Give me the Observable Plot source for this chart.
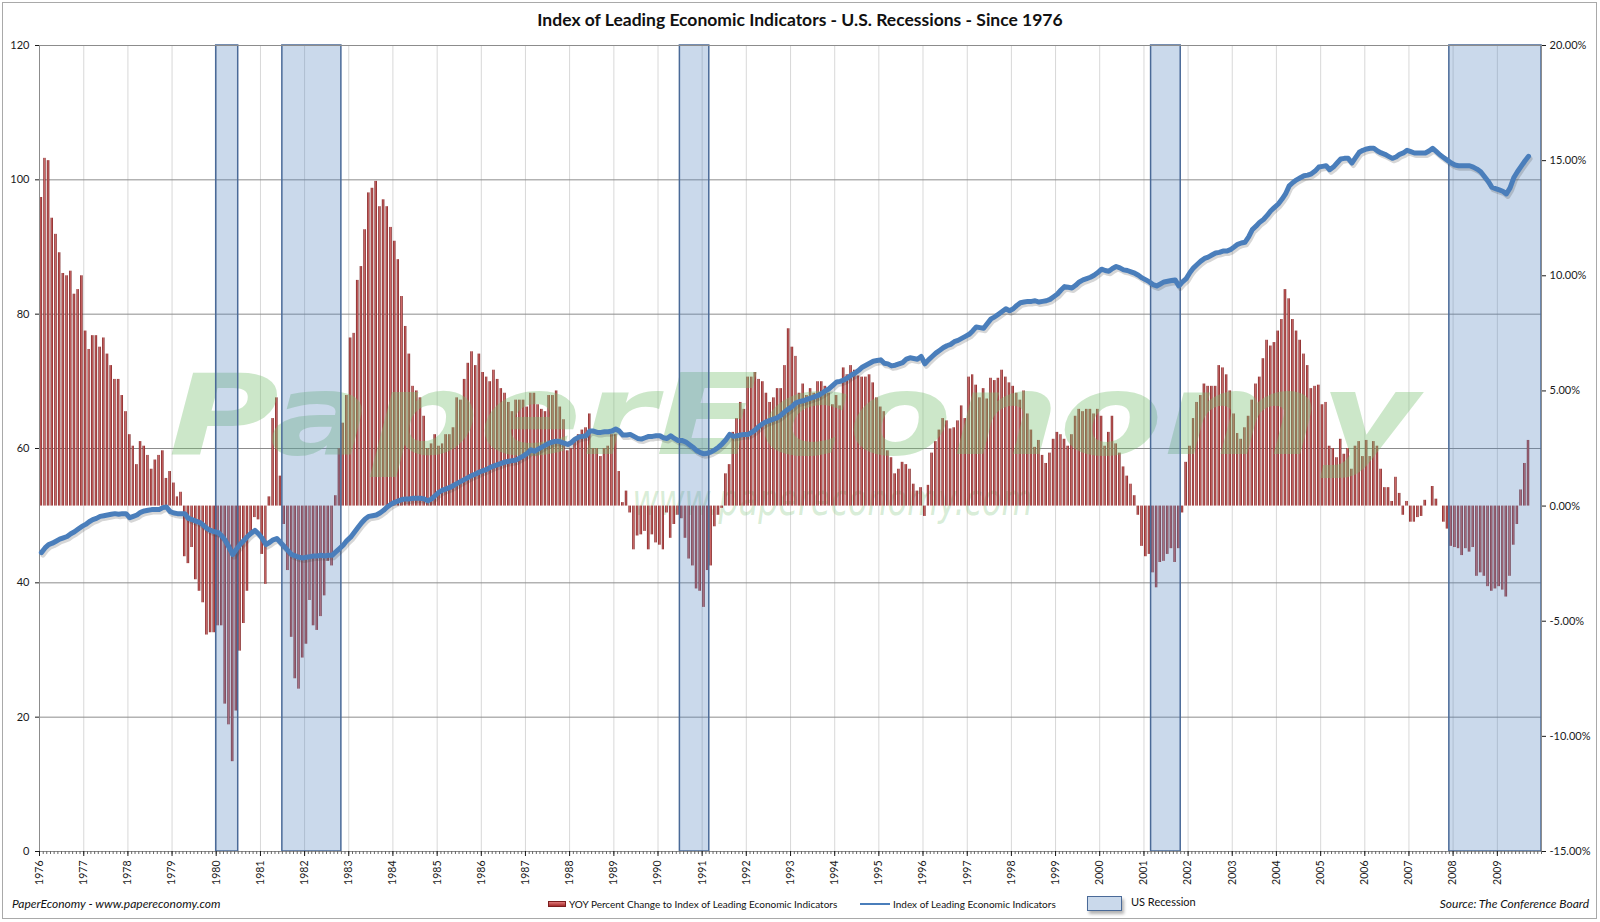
<!DOCTYPE html>
<html>
<head>
<meta charset="utf-8">
<script src="https://cdn.jsdelivr.net/npm/d3@7"></script>
<script src="https://cdn.jsdelivr.net/npm/@observablehq/plot@0.6"></script>
<style>
  body { margin: 0; background: #fff; }
  #wrap { position: relative; width: 1600px; height: 922px; overflow: hidden; background: #fff; font-family: Lato, "Open Sans", sans-serif; color: #111; }
  #chart { position: absolute; left: 0; top: 0; }
  #border { position: absolute; left: 2px; top: 2px; width: 1595px; height: 917px; border: 1px solid #a9a9a9; box-sizing: border-box; pointer-events: none; }
  .abs { position: absolute; white-space: nowrap; line-height: 1; }
  #title { top: 11px; left: 0; width: 1600px; text-align: center; font-weight: bold; font-size: 17.5px; }
  #credit { left: 12px; top: 898px; font-style: italic; font-size: 12px; }
  #source { right: 11px; top: 898px; font-style: italic; font-size: 12px; }
  .legtxt { font-size: 10px; top: 899px; }
  #sw1 { left: 548px; top: 901px; width: 18px; height: 6px; background: linear-gradient(#e07a7a, #a52a2a); border: 1px solid #7b1e1e; box-sizing: border-box; }
  #sw2 { left: 860px; top: 903px; width: 30px; height: 2px; background: #4a7ebb; }
  #sw3 { left: 1087px; top: 896px; width: 35px; height: 15px; background: #cad9eb; border: 1.5px solid #4a6a98; box-sizing: border-box; box-shadow: 2px 3px 3px rgba(0,0,0,0.3); }
</style>
</head>
<body>
<div id="wrap">
  <div id="chart"></div>
  <div id="border"></div>
  <div id="title" class="abs">Index of Leading Economic Indicators - U.S. Recessions - Since 1976</div>
  <div id="credit" class="abs">PaperEconomy - www.papereconomy.com</div>
  <div id="source" class="abs">Source: The Conference Board</div>
  <div id="sw1" class="abs"></div>
  <div class="abs legtxt" style="left:569px">YOY Percent Change to Index of Leading Economic Indicators</div>
  <div id="sw2" class="abs"></div>
  <div class="abs legtxt" style="left:893px">Index of Leading Economic Indicators</div>
  <div id="sw3" class="abs"></div>
  <div class="abs" style="left:1131px;top:896px;font-size:11px">US Recession</div>
</div>
<script>
// ---------------- data ----------------
const startYear = 1976;
const endYear = 2010; // axis ends at the start of 2010

// Year-over-year % change of the LEI, monthly from Jan 1976 (right axis)
const yoyPct = [
  // 1976
  13.4, 15.1, 15.0, 12.5, 11.8, 11.0, 10.1, 10.0, 10.2, 9.2, 9.4, 10.0,
  // 1977
  7.6, 6.8, 7.4, 7.4, 6.9, 7.3, 6.6, 6.1, 5.5, 5.5, 4.8, 4.1,
  // 1978
  3.1, 2.6, 1.8, 2.8, 2.6, 2.2, 1.6, 2.0, 2.2, 2.4, 1.2, 1.5,
  // 1979
  1.0, 0.4, 0.6, -2.2, -2.5, -1.8, -3.2, -3.7, -4.2, -5.6, -5.5, -5.5,
  // 1980
  -5.2, -5.2, -8.6, -9.5, -11.1, -8.9, -6.3, -5.1, -3.7, -1.3, -0.5, -0.6,
  // 1981
  -2.1, -3.4, 0.4, 3.8, 4.7, 1.3, -0.8, -2.8, -5.7, -7.5, -7.95, -6.6,
  // 1982
  -6.0, -4.1, -5.2, -5.4, -4.8, -3.9, -2.4, -2.6, 0.45, 2.5, 3.6, 4.8,
  // 1983
  7.3, 7.5, 9.8, 10.4, 12.0, 13.6, 13.8, 14.1, 13.0, 13.3, 13.0, 12.1,
  // 1984
  11.5, 10.7, 9.1, 7.8, 6.6, 5.2, 5.0, 4.7, 3.9, 2.5, 2.7, 3.1,
  // 1985
  2.6, 2.7, 3.1, 3.1, 3.4, 4.7, 4.6, 5.5, 6.2, 6.7, 6.1, 6.6,
  // 1986
  5.8, 5.6, 5.4, 5.9, 5.5, 5.1, 4.9, 4.5, 4.1, 4.6, 4.6, 4.6,
  // 1987
  4.3, 4.9, 4.9, 4.4, 4.2, 4.1, 4.8, 4.8, 5.0, 4.3, 3.75, 2.4,
  // 1988
  2.5, 2.8, 3.1, 3.3, 3.4, 4.0, 2.5, 2.5, 2.15, 2.5, 2.6, 3.1,
  // 1989
  3.1, 1.5, 0.15, 0.65, -0.3, -1.9, -1.3, -1.25, -1.1, -1.9, -1.25, -1.6,
  // 1990
  -1.7, -1.9, -0.3, -1.4, -0.8, -0.4, -0.55, -1.4, -2.3, -2.6, -3.6, -3.7,
  // 1991
  -4.4, -2.8, -2.6, -0.9, -0.4, -0.1, 1.4, 1.8, 3.2, 3.8, 4.5, 4.2,
  // 1992
  5.6, 5.6, 5.8, 5.5, 5.4, 4.9, 4.5, 4.7, 5.1, 5.1, 6.1, 7.7,
  // 1993
  6.9, 6.5, 4.9, 5.3, 4.8, 5.1, 4.9, 5.4, 5.4, 5.2, 4.9, 4.4,
  // 1994
  4.8, 4.35, 6.0, 5.7, 6.1, 5.9, 5.65, 5.6, 5.6, 5.7, 5.35, 4.7,
  // 1995
  4.3, 4.1, 2.4, 2.1, 1.4, 1.6, 1.9, 1.8, 1.6, 0.95, 0.65, 0.8,
  // 1996
  -0.45, 0.9, 2.3, 2.8, 3.3, 3.8, 3.7, 3.35, 3.4, 3.7, 4.35, 3.8,
  // 1997
  5.6, 5.7, 5.25, 4.7, 5.1, 4.65, 5.55, 5.45, 5.55, 5.9, 5.6, 5.35,
  // 1998
  5.2, 4.9, 4.6, 5.0, 4.0, 3.3, 2.55, 2.85, 2.2, 1.85, 2.3, 2.9,
  // 1999
  3.2, 3.1, 2.9, 2.6, 3.1, 3.9, 4.2, 4.1, 4.2, 4.2, 4.0, 4.2,
  // 2000
  3.9, 2.6, 3.2, 3.9, 2.7, 2.3, 1.7, 1.3, 0.95, 0.45, -0.4, -1.75,
  // 2001
  -2.2, -2.1, -2.9, -3.55, -2.45, -2.4, -2.1, -1.85, -2.45, -1.85, -0.3, 1.9,
  // 2002
  2.6, 3.8, 4.5, 4.8, 5.3, 5.2, 5.2, 5.2, 6.1, 6.0, 5.7, 5.0,
  // 2003
  4.0, 3.15, 2.9, 3.4, 3.9, 4.6, 5.3, 5.6, 6.4, 7.2, 6.95, 7.1,
  // 2004
  7.6, 8.1, 9.4, 9.0, 8.1, 7.6, 7.2, 6.6, 6.1, 5.1, 5.2, 5.25,
  // 2005
  4.4, 4.5, 2.6, 2.5, 2.1, 2.9, 2.25, 2.5, 1.6, 2.6, 2.8, 2.15,
  // 2006
  2.85, 2.15, 2.8, 2.6, 1.6, 0.8, 0.8, 0.2, 1.25, 0.55, -0.4, 0.2,
  // 2007
  -0.7, -0.7, -0.5, -0.45, 0.25, 0.0, 0.85, 0.3, 0.0, -0.7, -1.0, -1.75,
  // 2008
  -1.8, -1.85, -2.15, -1.85, -2.0, -1.8, -3.05, -2.9, -3.05, -3.5, -3.7, -3.6,
  // 2009
  -3.5, -3.65, -3.95, -3.05, -1.7, -0.8, 0.7, 1.85, 2.85
];

// Index of Leading Economic Indicators, monthly from Jan 1976 (left axis)
const leiIndex = [
  // 1976
  44.5, 45.2, 45.7, 45.9, 46.2, 46.5, 46.7, 46.9, 47.3, 47.6, 48.0, 48.4,
  // 1977
  48.7, 49.1, 49.4, 49.6, 49.9, 50.0, 50.1, 50.2, 50.3, 50.2, 50.3, 50.3,
  // 1978
  49.7, 49.9, 50.1, 50.5, 50.7, 50.8, 50.9, 50.9, 50.9, 51.2, 51.3, 50.6,
  // 1979
  50.4, 50.3, 50.3, 50.3, 49.6, 49.4, 49.2, 49.0, 48.6, 48.1, 47.8, 47.6,
  // 1980
  47.5, 47.0, 46.3, 45.3, 44.2, 45.0, 45.7, 46.3, 46.9, 47.4, 47.8, 47.3,
  // 1981
  46.6, 45.7, 46.0, 46.4, 46.6, 46.0, 45.4, 44.8, 44.2, 44.0, 43.8, 43.7,
  // 1982
  43.8, 43.9, 44.0, 44.0, 44.1, 44.0, 44.1, 44.1, 44.6, 45.1, 45.6, 46.3,
  // 1983
  46.8, 47.5, 48.2, 48.9, 49.5, 49.9, 50.0, 50.1, 50.4, 50.8, 51.3, 51.7,
  // 1984
  52.0, 52.2, 52.4, 52.5, 52.5, 52.6, 52.6, 52.6, 52.5, 52.2, 52.5, 53.0,
  // 1985
  53.5, 53.8, 54.0, 54.2, 54.5, 54.8, 55.1, 55.4, 55.7, 56.0, 56.2, 56.5,
  // 1986
  56.7, 56.9, 57.2, 57.4, 57.6, 57.8, 58.0, 58.1, 58.2, 58.3, 58.6, 58.9,
  // 1987
  59.3, 59.8, 59.6, 59.9, 60.2, 60.5, 60.8, 61.0, 61.1, 61.0, 60.8, 60.6,
  // 1988
  60.9, 61.4, 61.7, 61.8, 61.9, 62.6, 62.6, 62.4, 62.4, 62.5, 62.5, 62.6,
  // 1989
  62.9, 62.6, 62.0, 62.0, 62.1, 61.8, 61.5, 61.4, 61.6, 61.8, 61.8, 61.9,
  // 1990
  61.9, 61.6, 61.5, 61.9, 61.5, 61.2, 61.2, 61.0, 60.6, 60.2, 59.7, 59.4,
  // 1991
  59.2, 59.3, 59.5, 59.8, 60.2, 60.7, 61.3, 62.1, 61.8, 61.9, 62.0, 62.1,
  // 1992
  62.1, 62.4, 62.8, 63.3, 63.7, 64.0, 64.2, 64.4, 64.6, 65.0, 65.5, 65.9,
  // 1993
  66.3, 66.8, 67.0, 67.1, 67.3, 67.5, 67.7, 67.9, 68.2, 68.6, 68.9, 69.4,
  // 1994
  69.9, 70.0, 70.2, 70.5, 70.9, 71.2, 71.6, 72.1, 72.4, 72.7, 73.0, 73.1,
  // 1995
  73.2, 72.7, 72.6, 72.3, 72.4, 72.6, 72.8, 73.3, 73.5, 73.4, 73.3, 73.7,
  // 1996
  72.6, 73.2, 73.7, 74.2, 74.6, 75.0, 75.3, 75.5, 75.9, 76.1, 76.4, 76.7,
  // 1997
  77.0, 77.5, 78.1, 78.0, 77.9, 78.6, 79.3, 79.6, 80.0, 80.4, 80.8, 80.5,
  // 1998
  80.8, 81.3, 81.7, 81.8, 81.9, 81.9, 82.0, 81.8, 81.9, 82.0, 82.2, 82.6,
  // 1999
  83.0, 83.6, 84.1, 84.0, 83.9, 84.3, 84.8, 85.1, 85.3, 85.5, 85.8, 86.2,
  // 2000
  86.7, 86.5, 86.4, 86.8, 87.1, 86.9, 86.6, 86.5, 86.3, 86.1, 85.8, 85.4,
  // 2001
  85.1, 84.8, 84.4, 84.2, 84.5, 84.8, 84.9, 85.0, 85.1, 84.2, 84.8, 85.3,
  // 2002
  86.2, 86.9, 87.4, 87.9, 88.3, 88.5, 88.8, 89.1, 89.2, 89.4, 89.4, 89.6,
  // 2003
  90.0, 90.4, 90.6, 90.7, 91.5, 92.6, 93.1, 93.7, 94.1, 94.7, 95.4, 95.9,
  // 2004
  96.4, 97.1, 97.9, 99.1, 99.6, 100.0, 100.3, 100.6, 100.7, 100.9, 101.3, 101.9,
  // 2005
  102.0, 102.1, 101.5, 101.9, 102.5, 103.1, 103.2, 103.2, 102.5, 103.3, 104.1, 104.4,
  // 2006
  104.6, 104.7, 104.7, 104.3, 104.0, 103.8, 103.5, 103.2, 103.4, 103.8, 104.0, 104.4,
  // 2007
  104.2, 104.0, 104.0, 104.0, 104.0, 104.3, 104.7, 104.2, 103.7, 103.3, 102.9, 102.5,
  // 2008
  102.2, 102.1, 102.1, 102.1, 102.1, 101.9, 101.6, 101.2, 100.5, 99.8, 98.9, 98.7,
  // 2009
  98.5, 98.3, 97.9, 98.8, 100.3, 101.2, 102.0, 102.8, 103.5
];

// US recessions (start month, month after the end)
const recessions = [
  ["1980-01", "1980-07"],
  ["1981-07", "1982-11"],
  ["1990-07", "1991-03"],
  ["2001-03", "2001-11"],
  ["2007-12", "2010-01"]
];

const leftTicks = [0, 20, 40, 60, 80, 100, 120];
const rightTicks = [-15, -10, -5, 0, 5, 10, 15, 20];
const watermark = ["PaperEconomy", "www.papereconomy.com"];

// ---------------- build ----------------
const leftDomain = [0, 120];
const pctDomain = [-15, 20];
const pctToLeft = p => (p - pctDomain[0]) * (leftDomain[1] - leftDomain[0]) / (pctDomain[1] - pctDomain[0]) + leftDomain[0];
const leftToPct = v => (v - leftDomain[0]) * (pctDomain[1] - pctDomain[0]) / (leftDomain[1] - leftDomain[0]) + pctDomain[0];
const fmtPct = p => (Math.round(p * 100) / 100).toFixed(2) + "%";

const months = yoyPct.map((p, i) => {
  const date = new Date(Date.UTC(startYear, i, 1));
  const next = new Date(Date.UTC(startYear, i + 1, 1));
  return { date, next, mid: new Date((+date + +next) / 2), pct: p, lei: leiIndex[i] };
});
const yearTicks = d3.range(startYear, endYear).map(y => new Date(Date.UTC(y, 0, 1)));
const monthTicks = d3.range(0, (endYear - startYear) * 12 + 1).map(m => new Date(Date.UTC(startYear, m, 1)));
const parseMonth = d3.utcParse("%Y-%m");
const bands = recessions.map(([a, b]) => ({ start: parseMonth(a), end: parseMonth(b) }));
const zeroLeft = pctToLeft(0);

const chart = Plot.plot({
  width: 1600,
  height: 922,
  marginLeft: 39,
  marginRight: 59,
  marginTop: 45,
  marginBottom: 71,
  style: { fontFamily: "Lato, 'Open Sans', sans-serif", fontSize: "11px", color: "#1a1a1a", background: "transparent", overflow: "visible" },
  x: { type: "utc", domain: [new Date(Date.UTC(startYear, 0, 1)), new Date(Date.UTC(endYear, 0, 1))] },
  y: { domain: leftDomain },
  marks: [
    Plot.gridX({ ticks: yearTicks, stroke: "#d8d8d8", strokeOpacity: 1, strokeWidth: 1 }),
    Plot.gridY({ ticks: leftTicks.slice(1, -1), stroke: "#8c8c8c", strokeOpacity: 1, strokeWidth: 1 }),
    Plot.text([watermark[1]], { frameAnchor: "middle", text: d => d, dx: 42, dy: 52, fontSize: 44, fontStyle: "italic", fontFamily: "DejaVu Sans", fill: "#9bd198", fillOpacity: 0.4 }),
    Plot.rect(months, { x1: "date", x2: "next", y1: () => zeroLeft, y2: d => pctToLeft(d.pct), fill: "url(#barGrad)", insetLeft: 0.55, insetRight: 0.65 }),
    Plot.text([watermark[0]], { frameAnchor: "middle", text: d => d, dx: 3, dy: -30, fontSize: 112, fontWeight: "bold", fontStyle: "italic", fontFamily: "DejaVu Sans", fill: "#78bf72", fillOpacity: 0.38 }),
    Plot.rect(bands, { x1: "start", x2: "end", fill: "#4f81bd", fillOpacity: 0.3, stroke: "#4a6a98", strokeWidth: 1.5 }),
    Plot.frame({ stroke: "#8c8c8c" }),
    Plot.line(months, { x: "mid", y: "lei", stroke: "#444", strokeOpacity: 0.22, strokeWidth: 5, dx: 1.5, dy: 2.5, strokeLinejoin: "round", strokeLinecap: "round" }),
    Plot.line(months, { x: "mid", y: "lei", stroke: "#4a7ebb", strokeWidth: 5, strokeLinejoin: "round", strokeLinecap: "round" }),
    Plot.axisY({ anchor: "left", ticks: leftTicks, tickSize: 4, tickPadding: 6, label: null, fontSize: 11 }),
    Plot.axisY({ anchor: "right", ticks: rightTicks.map(pctToLeft), tickFormat: v => fmtPct(leftToPct(v)), tickSize: 4, tickPadding: 4, label: null, fontSize: 11 }),
    Plot.axisX({ ticks: monthTicks, tickSize: 3, tickFormat: () => "", label: null, stroke: "#666" }),
    Plot.axisX({ ticks: yearTicks, tickFormat: d => String(d.getUTCFullYear()), tickRotate: -90, tickSize: 5, tickPadding: 4, label: null, fontSize: 10.5 })
  ]
});

// bar gradient (dark edges, light centre) like the original columns
const svg = d3.select(chart);
const defs = svg.insert("defs", ":first-child");
const grad = defs.append("linearGradient").attr("id", "barGrad").attr("x1", "0").attr("x2", "1").attr("y1", "0").attr("y2", "0");
grad.append("stop").attr("offset", "0%").attr("stop-color", "#6f1515");
grad.append("stop").attr("offset", "50%").attr("stop-color", "#d06a6a");
grad.append("stop").attr("offset", "100%").attr("stop-color", "#6f1515");
// stretch the watermark texts to the width they have in the original
svg.selectAll("text").each(function () {
  const t = this.textContent;
  if (t === watermark[0]) d3.select(this).attr("textLength", 1250).attr("lengthAdjust", "spacingAndGlyphs");
  if (t === watermark[1]) d3.select(this).attr("textLength", 400).attr("lengthAdjust", "spacingAndGlyphs");
});

document.getElementById("chart").appendChild(chart);
</script>
</body>
</html>
